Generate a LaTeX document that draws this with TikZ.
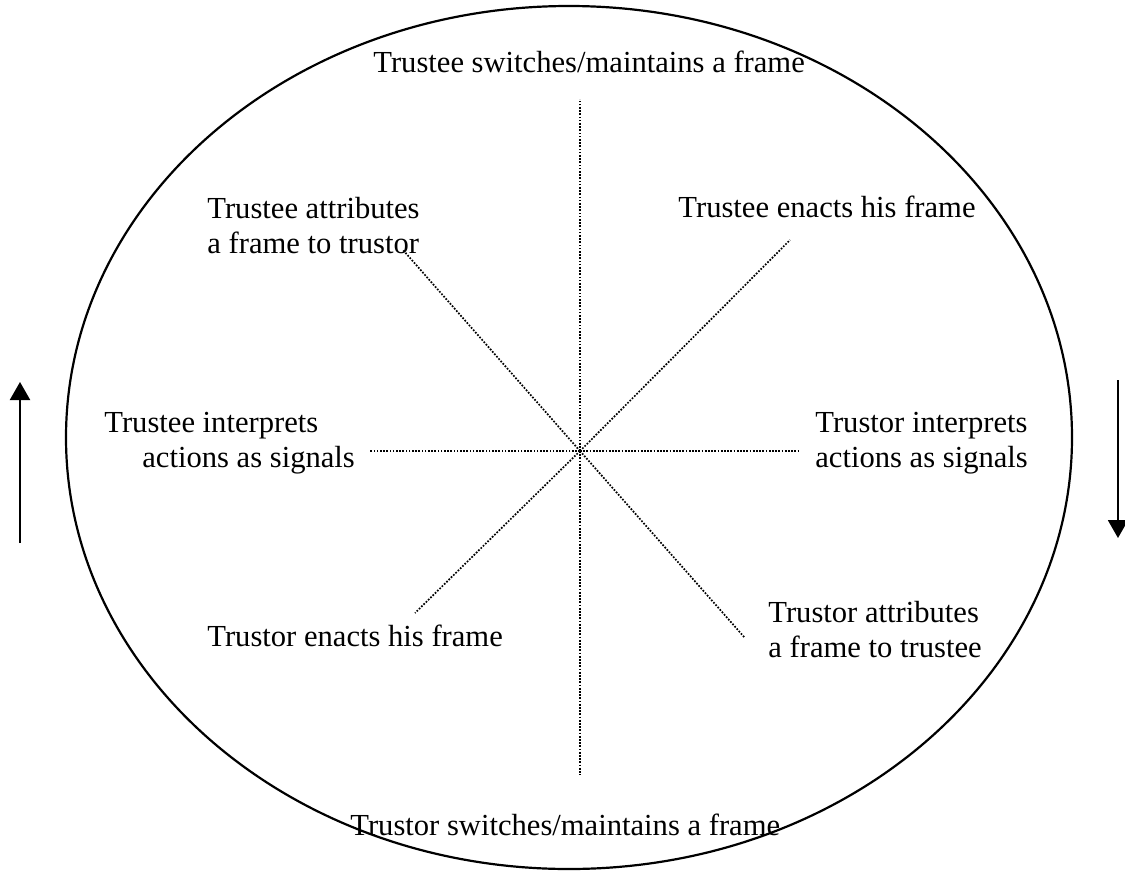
\documentclass[tikz,border=0pt]{standalone}
\usepackage{fontspec}
\setmainfont{Liberation Serif}
\usetikzlibrary{arrows.meta}

\begin{document}
\begin{tikzpicture}[x=0.5pt,y=-0.5pt,
    spoke/.style={line width=0.85pt, dash pattern=on 0.85pt off 0.75pt},
    lbl/.style={inner sep=0pt, anchor=base west, font=\fontsize{15.3}{17.5}\selectfont},
    turn/.style={line width=1pt, -{Triangle[width=10pt,length=9pt]}}]

  % Parameters
  \def\cx{569}
  \def\cy{437.5}
  \def\rx{503}
  \def\ry{431.5}
  \useasboundingbox (0,0) rectangle (1125,873);

  % outer ellipse
  \draw[line width=1.1pt] (\cx,\cy) ellipse [x radius=\rx, y radius=\ry];

  % phase labels (positions are baselines of the last line)
  \node[lbl] (teswitch) at (373,72) {Trustee switches/maintains a frame};
  \node[lbl, align=left] (teattr) at (207,253) {Trustee attributes\\a frame to trustor};
  \node[lbl, anchor=base east] (teenact) at (976,217) {Trustee enacts his frame};
  \node[lbl, align=left] (teinterp) at (104,467) {Trustee interprets\\\hspace*{19pt}actions as signals};
  \node[lbl, align=left] (trinterp) at (815,467) {Trustor interprets\\actions as signals};
  \node[lbl] (trenact) at (207,646) {Trustor enacts his frame};
  \node[lbl, align=left] (trattr) at (768,657) {Trustor attributes\\a frame to trustee};
  \node[lbl] (trswitch) at (350,835) {Trustor switches/maintains a frame};

  % hub and spoke ends
  \coordinate (hub) at (580,451);
  \coordinate (sn) at (580,99);
  \coordinate (ss) at (580,775);
  \coordinate (sw) at (370,451);
  \coordinate (se) at (800,451);
  \coordinate (snw) at (403,250);
  \coordinate (sne) at (790,240);
  \coordinate (ssw) at (415,613);
  \coordinate (sse) at (745,638);

  % spokes
  \foreach \s in {sn,ss,sw,se,snw,sne,ssw,sse} {
    \draw[spoke] (hub) -- (\s);
  }

  % direction of the cycle
  \coordinate (upfrom) at (20,543);
  \coordinate (upto) at (20,382);
  \coordinate (downfrom) at (1118,380);
  \coordinate (downto) at (1118,538);
  \draw[turn] (upfrom) -- (upto);
  \draw[turn] (downfrom) -- (downto);

\end{tikzpicture}
\end{document}
